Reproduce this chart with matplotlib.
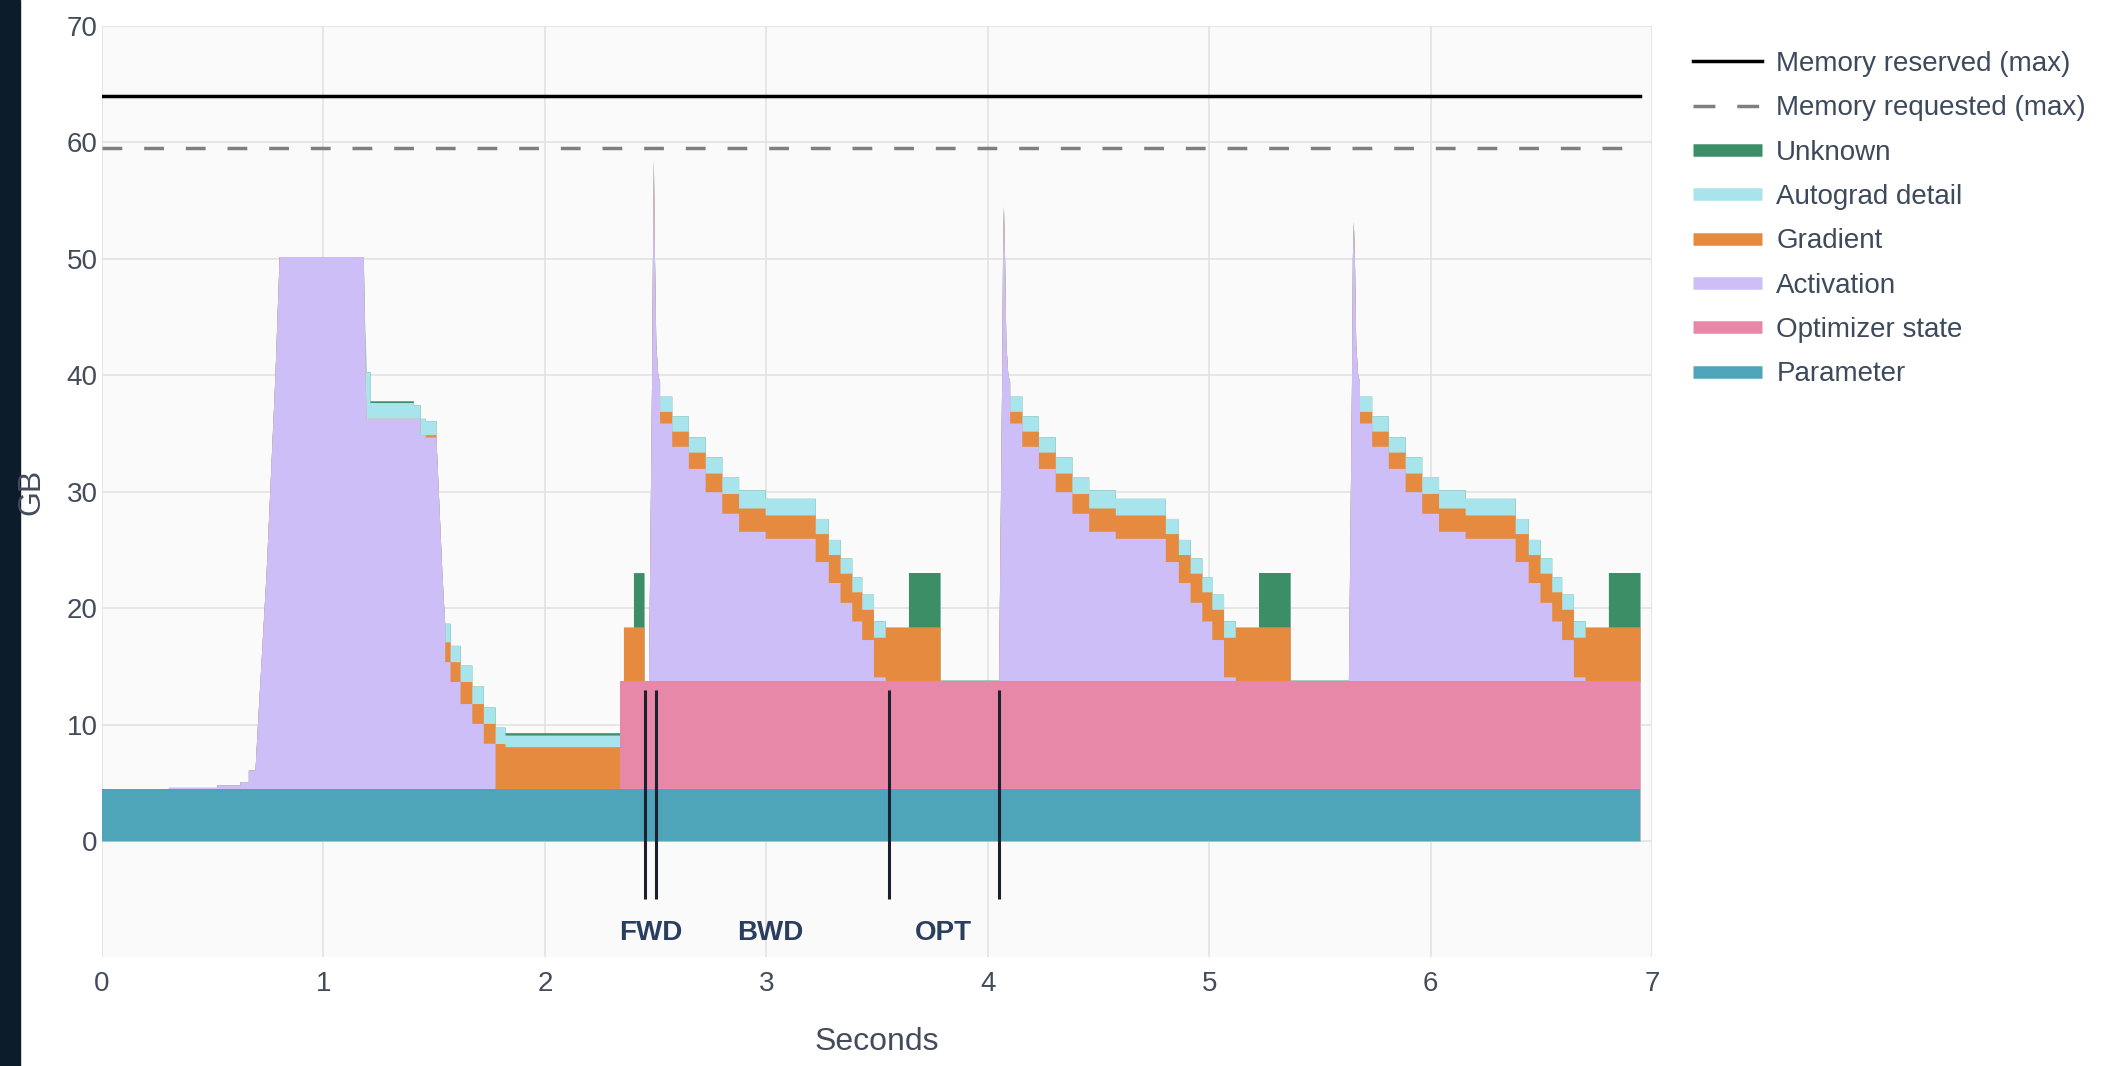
import numpy as np
import matplotlib.pyplot as plt
from matplotlib.lines import Line2D
from matplotlib.patches import Rectangle

plt.rcParams['font.family'] = ['Liberation Sans', 'DejaVu Sans']

# memory timeline in GB
t_end = 6.946
reserved_max = 64.0
requested_max = 59.5

# step data: each value holds until the next time stamp
param_t = [0.0]
param_gb = [4.5]
optim_t = [0.0, 2.34]
optim_gb = [0.0, 9.2]

# first (warm-up) step, absolute seconds
# activation is a polyline (ramps), a repeated time is a vertical jump
act_warm_t = [0.0, 0.30, 0.30, 0.518, 0.518, 0.623, 0.623, 0.661, 0.661, 0.691,
              0.702, 0.741, 0.781, 0.800, 1.180, 1.192, 1.436, 1.436, 1.460, 1.460,
              1.508, 1.535, 1.548, 1.548, 1.572, 1.572, 1.617, 1.617, 1.670, 1.670,
              1.722, 1.722, 1.775, 1.775]
act_warm_gb = [0.0, 0.0, 0.1, 0.1, 0.3, 0.3, 0.6, 0.6, 1.6, 1.6,
               5.5, 18.5, 35.5, 45.7, 45.7, 31.8, 31.8, 30.4, 30.4, 30.2,
               30.2, 18.5, 14.0, 10.9, 10.9, 9.2, 9.2, 7.3, 7.3, 5.6,
               5.6, 3.9, 3.9, 0.0]
grad_warm_t = [0.0, 1.460, 1.508, 1.548, 1.617, 1.670, 1.775, 1.820, 2.340, 2.355, 2.448]
grad_warm_gb = [0.0, 0.2, 0.0, 1.7, 1.9, 1.7, 3.87, 3.6, 0.0, 4.66, 0.0]
auto_warm_t = [0.0, 1.188, 1.210, 1.406, 1.436, 1.460, 1.508, 1.548, 1.572, 1.670, 1.722, 1.820, 2.340]
auto_warm_gb = [0.0, 4.0, 1.36, 1.16, 1.4, 1.2, 0.0, 1.6, 1.4, 1.5, 1.4, 1.0, 0.0]
unk_warm_t = [0.0, 1.210, 1.406, 1.820, 2.340, 2.400, 2.448]
unk_warm_gb = [0.0, 0.15, 0.0, 0.2, 0.0, 4.69, 0.0]

# the later steps look the same; times relative to the activation rise
step_starts = [2.468, 4.049, 5.629]
spike_peak = [58.5, 54.5, 53.2]   # total GB at the tip of each forward spike
act_step_t = [0.000, 0.014, 0.018, 0.022, 0.027, 0.033, 0.042, 0.050, 0.050, 0.105,
              0.105, 0.180, 0.180, 0.256, 0.256, 0.331, 0.331, 0.407, 0.407, 0.527,
              0.527, 0.753, 0.753, 0.812, 0.812, 0.865, 0.865, 0.918, 0.918, 0.963,
              0.963, 1.016, 1.016, 1.069, 1.069]
act_step_gb = [0.0, 25.9, 36.5, 44.8, 36.5, 29.0, 26.3, 25.8, 22.2, 22.2,
               20.2, 20.2, 18.3, 18.3, 16.3, 16.3, 14.45, 14.45, 12.9, 12.9,
               12.3, 12.3, 10.3, 10.3, 8.5, 8.5, 6.8, 6.8, 5.2, 5.2,
               3.6, 3.6, 0.4, 0.4, 0.0]
grad_step_t = [0.0, 0.050, 0.105, 0.180, 0.256, 0.331, 0.407, 0.753, 0.865, 0.963, 1.016, 1.069, 1.317]
grad_step_gb = [0.0, 1.0, 1.3, 1.4, 1.6, 1.7, 2.0, 2.4, 2.5, 2.6, 3.4, 4.66, 0.0]
auto_step_t = [0.0, 0.050, 0.256, 0.331, 0.407, 0.527, 0.753, 1.016, 1.069]
auto_step_gb = [0.0, 1.3, 1.4, 1.45, 1.55, 1.43, 1.3, 1.4, 0.0]
unk_step_t = [0.0, 1.174, 1.317]
unk_step_gb = [0.0, 4.7, 0.12]

phase_t = [2.450, 2.502, 3.552, 4.051]
phase_labels = ['FWD', 'BWD', 'OPT']
phase_label_t = [2.48, 3.02, 3.80]

names = ['Parameter', 'Optimizer state', 'Activation', 'Gradient', 'Autograd detail', 'Unknown']
colors = ['#4ea4b9', '#e788a9', '#cdbef8', '#e68a3f', '#a8e4eb', '#3b8e66']

base_gb = param_gb[0] + optim_gb[1]
PEAK_IDX = 3


def join(warm_t, warm_v, step_t, step_v, peaks=None):
    tt, vv = list(warm_t), list(warm_v)
    for k, s in enumerate(step_starts):
        v = list(step_v)
        if peaks is not None:
            v[PEAK_IDX] = peaks[k] - base_gb
        tt += [s + r for r in step_t]
        vv += v
    return tt, vv


def steps_to_line(t, v):
    tt, vv, prev = [], [], 0.0
    for ti, vi in zip(t, v):
        tt += [ti, ti]
        vv += [prev, vi]
        prev = vi
    tt.append(t_end)
    vv.append(prev)
    return np.array(tt), np.array(vv)


def limits(tc, vc, g):
    # value just left / just right of each time on a polyline with vertical jumps
    n = len(tc)

    def lin(i, x):
        i = np.clip(i, 0, n - 2)
        dt = tc[i + 1] - tc[i]
        w = np.clip((x - tc[i]) / np.where(dt > 0, dt, 1.0), 0, 1)
        w = np.where(dt > 0, w, 1.0)
        return vc[i] + (vc[i + 1] - vc[i]) * w

    left = lin(np.searchsorted(tc, g, side='left') - 1, g)
    right = lin(np.searchsorted(tc, g, side='right') - 1, g)
    return left, right


act_t, act_v = join(act_warm_t, act_warm_gb, act_step_t, act_step_gb, spike_peak)
lines = [
    steps_to_line(param_t, param_gb),
    steps_to_line(optim_t, optim_gb),
    (np.array(act_t + [t_end]), np.array(act_v + [0.0])),
    steps_to_line(*join(grad_warm_t, grad_warm_gb, grad_step_t, grad_step_gb)),
    steps_to_line(*join(auto_warm_t, auto_warm_gb, auto_step_t, auto_step_gb)),
    steps_to_line(*join(unk_warm_t, unk_warm_gb, unk_step_t, unk_step_gb)),
]
grid = np.unique(np.concatenate([ln[0] for ln in lines]))
grid = grid[grid <= t_end]
x = np.repeat(grid, 2)
layers = []
for tc, vc in lines:
    lo, hi = limits(tc, vc, grid)
    layers.append(np.column_stack([lo, hi]).ravel())
tops = np.cumsum(layers, axis=0)

fig = plt.figure(figsize=(21.13, 10.66), dpi=100)
fig.patches.append(Rectangle((0, 0), 20 / 2113, 1, transform=fig.transFigure, color='#0d1c2b'))
ax = fig.add_axes([102 / 2113, 1 - 957.4 / 1066, 1550 / 2113, 931.4 / 1066])
ax.set_facecolor('#fafafa')

# draw from the top layer down so no seams show between bands
for k in range(len(names) - 1, -1, -1):
    ax.fill_between(x, 0, tops[k], color=colors[k], lw=0)

ax.plot([0, t_end], [reserved_max, reserved_max], color='black', lw=2.5)
ax.plot([0, t_end], [requested_max, requested_max], color='#7f7f7f', lw=2.5, dashes=(5.7, 6.3))

ax.vlines(phase_t, -5, 13, color='#1b1f2e', lw=2.2)
for lab, xt in zip(phase_labels, phase_label_t):
    ax.text(xt, -7.9, lab, ha='center', va='center', fontsize=20, fontweight='bold', color='#2a3f5f')

ax.set_xlim(0, 7)
ax.set_ylim(-10, 70)
ax.set_xticks(range(0, 8))
ax.set_yticks(range(0, 71, 10))
ax.grid(True, color='#e2e2e2', lw=1.2)
ax.set_axisbelow(True)
for sp in ax.spines.values():
    sp.set_visible(False)
ax.tick_params(length=0, labelsize=20, labelcolor='#444c5c')
ax.tick_params(axis='x', pad=10)
ax.tick_params(axis='y', pad=3)

fig.text(877 / 2113, 1 - 1042 / 1066, 'Seconds', ha='center', va='center', fontsize=23, color='#444c5c')
fig.text(31 / 2113, 1 - 492 / 1066, 'GB', ha='center', va='center', rotation=90, fontsize=23, color='#444c5c')

handles = [Line2D([], [], color='black', lw=2.5),
           Line2D([], [], color='#7f7f7f', lw=2.5, dashes=(6.3, 6.3))]
labels = ['Memory reserved (max)', 'Memory requested (max)']
for k in range(len(names) - 1, -1, -1):
    handles.append(Line2D([], [], color=colors[k], lw=9, solid_capstyle='butt'))
    labels.append(names[k])
leg = fig.legend(handles, labels, loc='upper left', bbox_to_anchor=(1693 / 2113, 1 - 51 / 1066),
                 frameon=False, fontsize=20, handlelength=2.5, handletextpad=0.5,
                 labelspacing=0.66, borderaxespad=0, borderpad=0)
for txt in leg.get_texts():
    txt.set_color('#3d4a5c')

fig.savefig('out.png', dpi=100, facecolor='white')
